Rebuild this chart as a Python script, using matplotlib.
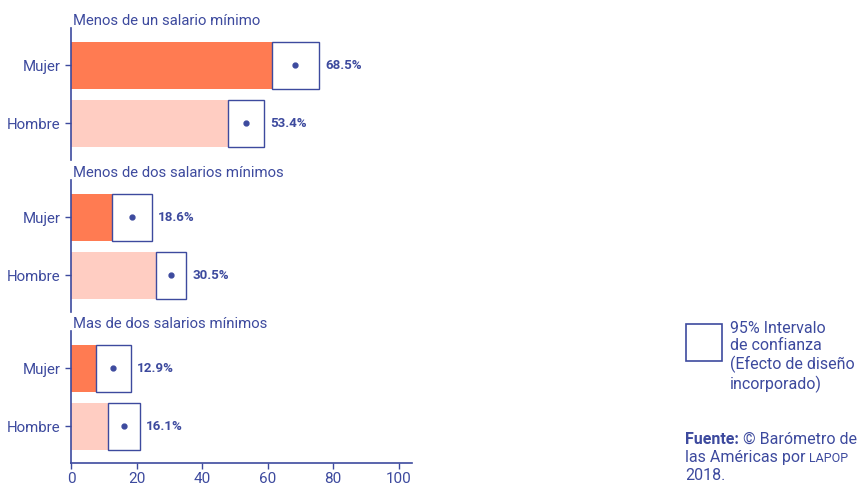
import matplotlib.pyplot as plt
from matplotlib.patches import Rectangle

plt.rcParams['font.family'] = ['Roboto', 'DejaVu Sans']

navy = "#3d4a9e"
orange = "#ff7b52"
pink = "#ffcdc2"

groups = ["Menos de un salario mínimo", "Menos de dos salarios mínimos", "Mas de dos salarios mínimos"]
sexes = ["Mujer", "Hombre"]
values = [[68.5, 53.4], [18.6, 30.5], [12.9, 16.1]]
ci_low = [[61.3, 47.9], [12.5, 25.9], [7.6, 11.3]]
ci_high = [[75.6, 58.8], [24.7, 35.1], [18.3, 21.0]]
xticks = [0, 20, 40, 60, 80, 100]

fig = plt.figure(figsize=(8.58, 4.84), dpi=100)

# axes positions in figure fraction (left, bottom, width, height)
bottoms = [0.669, 0.355, 0.043]
left, width, height = 0.0828, 0.397, 0.273
bar_h = 0.81

for i, grp in enumerate(groups):
    ax = fig.add_axes([left, bottoms[i], width, height])
    ys = [0, 1]
    ax.barh(ys, values[i], height=bar_h, color=[orange, pink], zorder=1)
    for y, v, lo, hi in zip(ys, values[i], ci_low[i], ci_high[i]):
        ax.add_patch(Rectangle((lo, y - bar_h / 2), hi - lo, bar_h,
                               facecolor="white", edgecolor=navy, lw=1.0, zorder=2))
        ax.plot(v, y, "o", color=navy, ms=3.5, zorder=3)
        ax.annotate(f"{v}%", (hi, y), xytext=(4.5, 0), textcoords="offset points",
                    va="center", ha="left", fontsize=9.6, fontweight="bold", color=navy)
    ax.set_ylim(1.638, -0.638)
    ax.set_xlim(0, 104)
    ax.set_yticks(ys)
    ax.set_yticklabels(sexes)
    ax.tick_params(axis="y", length=4, width=1, color=navy, labelcolor=navy, labelsize=10.8)
    ax.set_title(grp, loc="left", color=navy, fontsize=10.7, pad=2, x=0.005)
    for s in ["top", "right"]:
        ax.spines[s].set_visible(False)
    ax.spines["left"].set_color(navy)
    ax.spines["left"].set_linewidth(1.2)
    if i < 2:
        ax.spines["bottom"].set_visible(False)
        ax.set_xticks([])
    else:
        ax.spines["bottom"].set_color(navy)
        ax.spines["bottom"].set_linewidth(1.2)
        ax.set_xticks(xticks)
        ax.tick_params(axis="x", length=4, width=1, color=navy, labelcolor=navy, labelsize=11, pad=2)
    ax.set_facecolor("none")

# legend box
fig.patches.append(Rectangle((686 / 858, 1 - 361 / 484), 36 / 858, 37 / 484,
                             transform=fig.transFigure, facecolor="white",
                             edgecolor=navy, lw=1.2))
fig.text(730 / 858, 1 - 321 / 484, "95% Intervalo\nde confianza\n(Efecto de diseño\nincorporado)",
         color=navy, fontsize=11.5, va="top", ha="left", linespacing=1.2)

# source note, pieces placed one after the other on common baselines
renderer = fig.canvas.get_renderer()
t1 = fig.text(685 / 858, 1 - 444 / 484, "Fuente: ", color=navy, fontsize=11.5,
              fontweight="bold", va="baseline", ha="left")
x1 = t1.get_window_extent(renderer).x1 / fig.bbox.width
fig.text(x1, 1 - 444 / 484, "© Barómetro de", color=navy, fontsize=11.5,
         va="baseline", ha="left")
t2 = fig.text(685 / 858, 1 - 462 / 484, "las Américas por ", color=navy, fontsize=11.5,
              va="baseline", ha="left")
x2 = t2.get_window_extent(renderer).x1 / fig.bbox.width
fig.text(x2, 1 - 462 / 484, "LAPOP", color=navy, fontsize=9,
         va="baseline", ha="left")
fig.text(685 / 858, 1 - 480 / 484, "2018.", color=navy, fontsize=11.5,
         va="baseline", ha="left")

fig.savefig("out.png", dpi=100)
